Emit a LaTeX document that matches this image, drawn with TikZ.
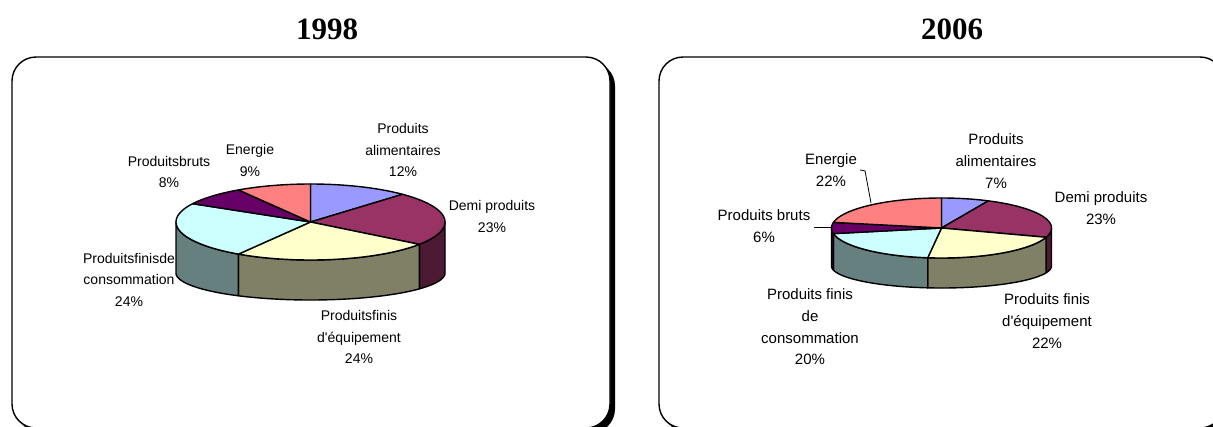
\documentclass[tikz,border=0pt]{standalone}
\usepackage{fontspec}
\setmainfont{Liberation Sans}
\newfontfamily\titlefont{Liberation Serif}
\definecolor{cBlue}{HTML}{9999FF}
\definecolor{cMaroon}{HTML}{993366}
\definecolor{cMaroonS}{HTML}{4D1A33}
\definecolor{cYellow}{HTML}{FFFFCC}
\definecolor{cOlive}{HTML}{808066}
\definecolor{cCyan}{HTML}{CCFFFF}
\definecolor{cTeal}{HTML}{668080}
\definecolor{cPurple}{HTML}{660066}
\definecolor{cPurpleS}{HTML}{330033}
\definecolor{cSalmon}{HTML}{FF8080}
% top face of a slice: cx cy rx ry a b colour
\newcommand\topslice[7]{%
  \filldraw[fill=#7, pieedge] (#1,#2) -- plot[domain=#5:#6, samples=40, variable=\t]
    ({#1+#3*sin(\t)},{#2-#4*cos(\t)}) -- cycle;}
% side face: cx cy rx ry bottomcy bottomry a b colour
\newcommand\sideslice[9]{%
  \filldraw[fill=#9, pieedge] plot[domain=#7:#8, samples=40, variable=\t]
    ({#1+#3*sin(\t)},{#2-#4*cos(\t)}) -- plot[domain=#8:#7, samples=40, variable=\t]
    ({#1+#3*sin(\t)},{#5-#6*cos(\t)}) -- cycle;}
\begin{document}
\begin{tikzpicture}[x=1pt,y=-1pt,
  pieedge/.style={draw=black, line width=1.4pt, line join=round},
  panel/.style={draw=black, line width=1.4pt, fill=white, rounded corners=24pt},
  panelshadow/.style={fill=black, rounded corners=24pt},
  lblL/.style={font=\fontsize{14}{21.5}\selectfont, align=center, inner sep=0pt},
  lblR/.style={font=\fontsize{15}{21.7}\selectfont, align=center, inner sep=0pt},
  yeartitle/.style={font=\titlefont\bfseries\fontsize{31}{31}\selectfont, inner sep=0pt},
  leader/.style={draw=black, line width=0.8pt}]
\useasboundingbox (0,0) rectangle (1213,426);
\fill[white] (0,0) rectangle (1213,426);
\begin{scope}
\clip (0,0) rectangle (1213,426);
% panels
\fill[panelshadow] (17,62) rectangle (615,433);
\draw[panel] (12,57) rectangle (610,428);
\fill[panelshadow] (664,62) rectangle (1229,433);
\draw[panel] (659,57) rectangle (1224,428);
\end{scope}
% titles
\node[yeartitle] (t1998) at (327,29) {1998};
\node[yeartitle] (t2006) at (952,29) {2006};
% ---- pie 1998 ----
\sideslice{310.5}{222}{134.5}{38}{273}{27}{90}{126}{cMaroonS}
\sideslice{310.5}{222}{134.5}{38}{273}{27}{126}{212.4}{cOlive}
\sideslice{310.5}{222}{134.5}{38}{273}{27}{212.4}{270}{cTeal}
\topslice{310.5}{222}{134.5}{38}{0}{43.2}{cBlue}
\topslice{310.5}{222}{134.5}{38}{43.2}{126}{cMaroon}
\topslice{310.5}{222}{134.5}{38}{126}{212.4}{cYellow}
\topslice{310.5}{222}{134.5}{38}{212.4}{298.8}{cCyan}
\topslice{310.5}{222}{134.5}{38}{298.8}{327.6}{cPurple}
\topslice{310.5}{222}{134.5}{38}{327.6}{360}{cSalmon}
\node[lblL] (a98) at (403,150) {Produits\\alimentaires\\12\%};
\node[lblL] (e98) at (250,160.5) {Energie\\9\%};
\node[lblL] (b98) at (169,172) {Produitsbruts\\8\%};
\node[lblL] (d98) at (492,216.5) {Demi produits\\23\%};
\node[lblL] (c98) at (129,279.5) {Produitsfinisde\\consommation\\24\%};
\node[lblL] (q98) at (359,337) {Produitsfinis\\d\textquotesingle équipement\\24\%};
% ---- pie 2006 ----
\sideslice{941.5}{228}{110}{30}{266}{22}{90}{108}{cMaroonS}
\sideslice{941.5}{228}{110}{30}{266}{22}{108}{187.2}{cOlive}
\sideslice{941.5}{228}{110}{30}{266}{22}{187.2}{259.2}{cTeal}
\sideslice{941.5}{228}{110}{30}{266}{22}{259.2}{270}{cPurpleS}
\topslice{941.5}{228}{110}{30}{0}{25.2}{cBlue}
\topslice{941.5}{228}{110}{30}{25.2}{108}{cMaroon}
\topslice{941.5}{228}{110}{30}{108}{187.2}{cYellow}
\topslice{941.5}{228}{110}{30}{187.2}{259.2}{cCyan}
\topslice{941.5}{228}{110}{30}{259.2}{280.8}{cPurple}
\topslice{941.5}{228}{110}{30}{280.8}{360}{cSalmon}
\node[lblR] (a06) at (996,161) {Produits\\alimentaires\\7\%};
\node[lblR] (e06) at (831,170) {Energie\\22\%};
\node[lblR] (b06) at (764,226) {Produits bruts\\6\%};
\node[lblR] (d06) at (1101,208) {Demi produits\\23\%};
\node[lblR] (c06) at (810,327) {Produits finis\\de\\consommation\\20\%};
\node[lblR] (q06) at (1047,321) {Produits finis\\d\textquotesingle équipement\\22\%};
% leader lines
\coordinate (e06tip) at (871,203);
\coordinate (b06tip) at (832,227);
\draw[leader] (e06.east) ++(3,0) coordinate (e06s) -- ++(5,1) -- (e06tip);
\draw[leader] (b06.east |- b06tip) ++(4,0) -- (b06tip);
\end{tikzpicture}
\end{document}
